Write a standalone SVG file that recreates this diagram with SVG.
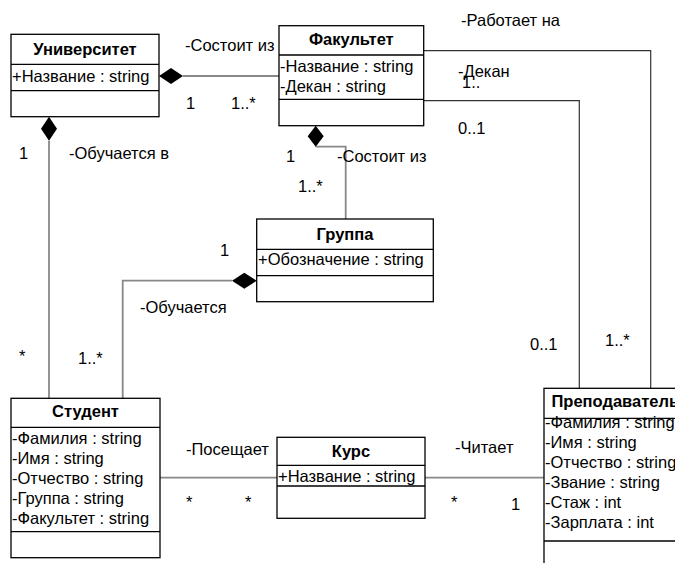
<svg xmlns="http://www.w3.org/2000/svg" width="675" height="563" viewBox="0 0 675 563">
<style>
.box{fill:#fff;stroke:#000;stroke-width:1.3}
.div{stroke:#000;stroke-width:1.3}
.hdr{font-family:"Liberation Sans",Arial,sans-serif;font-size:16.5px;font-weight:bold;text-anchor:middle;fill:#000}
.at{font-family:"Liberation Sans",Arial,sans-serif;font-size:16.5px;fill:#000}
.lb{font-family:"Liberation Sans",Arial,sans-serif;font-size:16.5px;fill:#000}
.cg{fill:none;stroke:#888;stroke-width:1.8}
.ck{fill:none;stroke:#333;stroke-width:1.2}
.dia{fill:#000}
</style>
<rect width="675" height="563" fill="#fff"/>
<g id="connectors">
<polyline class="cg" points="183,76 279,76"/>
<polygon class="dia" points="159,76 171,68 183,76 171,84"/>
<polyline class="cg" points="49,140.7 49,398"/>
<polygon class="dia" points="49,116.7 57,128.7 49,140.7 41,128.7"/>
<polyline class="cg" points="315.7,146.7 345.7,146.7 345.7,219"/>
<polygon class="dia" points="315.7,125.7 323.7,136.2 315.7,146.7 307.7,136.2"/>
<polyline class="cg" points="232,280.7 122.7,280.7 122.7,398"/>
<polygon class="dia" points="256.7,280.7 244.3,288.7 232,280.7 244.3,272.7"/>
<polyline class="cg" points="160,477.7 277,477.7"/>
<polyline class="cg" points="425,477.7 544,477.7"/>
<polyline class="ck" points="424,50.7 650.7,50.7 650.7,388"/>
<polyline class="ck" points="424,100.7 579.3,100.7 579.3,388"/>
</g>
<g id="labels">
<text class="lb" x="185" y="51">-Состоит из</text>
<text class="lb" x="186" y="109">1</text>
<text class="lb" x="231" y="109">1..*</text>
<text class="lb" x="19" y="159">1</text>
<text class="lb" x="69" y="159">-Обучается в</text>
<text class="lb" x="286" y="162">1</text>
<text class="lb" x="337" y="162">-Состоит из</text>
<text class="lb" x="298" y="192">1..*</text>
<text class="lb" x="461" y="26">-Работает на</text>
<text class="lb" x="462" y="88">1..*</text>
<rect x="469" y="61" width="48" height="21" fill="#fff"/>
<text class="lb" x="458" y="77">-Декан</text>
<text class="lb" x="458" y="134">0..1</text>
<text class="lb" x="220" y="256">1</text>
<text class="lb" x="140" y="313">-Обучается</text>
<text class="lb" x="19" y="362">*</text>
<text class="lb" x="78" y="364">1..*</text>
<text class="lb" x="530" y="350">0..1</text>
<text class="lb" x="605" y="346">1..*</text>
<text class="lb" x="186" y="455">-Посещает</text>
<text class="lb" x="186" y="508">*</text>
<text class="lb" x="245" y="508">*</text>
<text class="lb" x="455" y="453">-Читает</text>
<text class="lb" x="451" y="508">*</text>
<text class="lb" x="511" y="510">1</text>
</g>
<g id="university">
<rect class="box" x="11" y="34.3" width="148" height="82.4"/>
<line class="div" x1="11" y1="64.3" x2="159" y2="64.3"/>
<line class="div" x1="11" y1="90.7" x2="159" y2="90.7"/>
<text class="hdr" x="85" y="54.5">Университет</text>
<text class="at" x="12" y="81.5">+Название : string</text>
</g>
<g id="faculty">
<rect class="box" x="279" y="25.7" width="144.7" height="100"/>
<line class="div" x1="279" y1="55" x2="423.7" y2="55"/>
<line class="div" x1="279" y1="99.3" x2="423.7" y2="99.3"/>
<text class="hdr" x="351.3" y="45">Факультет</text>
<text class="at" x="280" y="72">-Название : string</text>
<text class="at" x="280" y="92">-Декан : string</text>
</g>
<g id="group">
<rect class="box" x="256.7" y="219" width="176.6" height="82.7"/>
<line class="div" x1="256.7" y1="249.3" x2="433.3" y2="249.3"/>
<line class="div" x1="256.7" y1="275.7" x2="433.3" y2="275.7"/>
<text class="hdr" x="345" y="240">Группа</text>
<text class="at" x="258" y="265">+Обозначение : string</text>
</g>
<g id="student">
<rect class="box" x="11" y="398.3" width="149" height="159.4"/>
<line class="div" x1="11" y1="427.3" x2="160" y2="427.3"/>
<line class="div" x1="11" y1="531.7" x2="160" y2="531.7"/>
<text class="hdr" x="85.5" y="417">Студент</text>
<text class="at" x="12" y="443.5">-Фамилия : string</text>
<text class="at" x="12" y="463.5">-Имя : string</text>
<text class="at" x="12" y="483.5">-Отчество : string</text>
<text class="at" x="12" y="503.5">-Группа : string</text>
<text class="at" x="12" y="523.5">-Факультет : string</text>
</g>
<g id="course">
<rect class="box" x="277" y="437.3" width="148" height="81"/>
<line class="div" x1="277" y1="465.3" x2="425" y2="465.3"/>
<line class="div" x1="277" y1="486" x2="425" y2="486"/>
<text class="hdr" x="351" y="457">Курс</text>
<text class="at" x="278" y="482">+Название : string</text>
</g>
<g id="teacher">
<rect class="box" x="544" y="388.3" width="160" height="200"/>
<line class="div" x1="544" y1="418.3" x2="704" y2="418.3"/>
<line class="div" x1="544" y1="541" x2="704" y2="541"/>
<text class="at" x="551.5" y="406.5" style="font-weight:bold">Преподаватель</text>
<text class="at" x="545" y="428">-Фамилия : string</text>
<text class="at" x="545" y="448">-Имя : string</text>
<text class="at" x="545" y="468">-Отчество : string</text>
<text class="at" x="545" y="488">-Звание : string</text>
<text class="at" x="545" y="508">-Стаж : int</text>
<text class="at" x="545" y="528">-Зарплата : int</text>
</g>
</svg>
